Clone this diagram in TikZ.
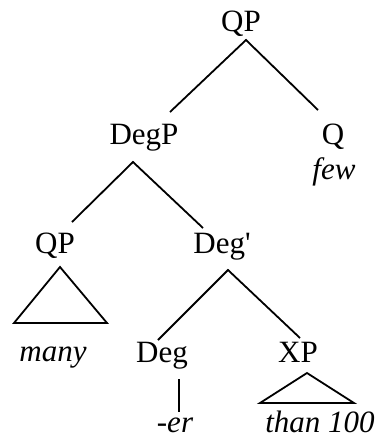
\documentclass[tikz,border=0pt]{standalone}
\usepackage{fontspec}
\setmainfont{Liberation Serif}[Ligatures=TeXOff]
\usepackage{tikz}
\usetikzlibrary{calc}

\begin{document}
\begin{tikzpicture}[x=1pt,y=-1pt,
	cat/.style={inner sep=0pt,font=\fontsize{31}{34}\selectfont},
	word/.style={cat,font=\fontsize{31}{34}\selectfont\itshape},
	branch/.style={line width=1.8pt}]
	%%%%% START %%%%%
	\useasboundingbox (0,0) rectangle (380,440);

	% labels
	\node[cat,anchor=base] (qptop) at (241,31) {QP};
	\node[cat,anchor=base] (degp) at (144,144) {DegP};
	\node[cat,anchor=base] (q) at (333,144) {Q};
	\node[word,anchor=base] (few) at (334,179) {few};
	\node[cat,anchor=base] (qp) at (55,253) {QP};
	\node[cat,anchor=base] (degbar) at (222,253) {Deg'};
	\node[word,anchor=base] (many) at (53,361) {many};
	\node[cat,anchor=base] (deg) at (162,362) {Deg};
	\node[cat,anchor=base] (xp) at (298,362) {XP};
	\node[word,anchor=base] (er) at (175,432) {-er};
	\node[word,anchor=base] (than) at (320,432) {than 100};

	% branch points
	\coordinate (qptop-b) at (246,40);
	\coordinate (degp-t) at (170,112);
	\coordinate (q-t) at (318,110);
	\coordinate (degp-b) at (133,162);
	\coordinate (qp-t) at (72,222);
	\coordinate (degbar-t) at (203,228);
	\coordinate (degbar-b) at (228,270);
	\coordinate (deg-t) at (158,340);
	\coordinate (xp-t) at (300,338);
	\coordinate (deg-b) at (179,379);
	\coordinate (er-t) at (179,412);

	\draw[branch] (degp-t) -- (qptop-b) -- (q-t);
	\draw[branch] (qp-t) -- (degp-b) -- (degbar-t);
	\draw[branch] (deg-t) -- (degbar-b) -- (xp-t);
	\draw[branch] (deg-b) -- (er-t);

	% triangles
	\draw[branch] (60,267) -- (14,323) -- (107,323) -- cycle;
	\draw[branch] (307,373) -- (260,403) -- (354,403) -- cycle;

	%%%%% END %%%%%
\end{tikzpicture}
\end{document}
